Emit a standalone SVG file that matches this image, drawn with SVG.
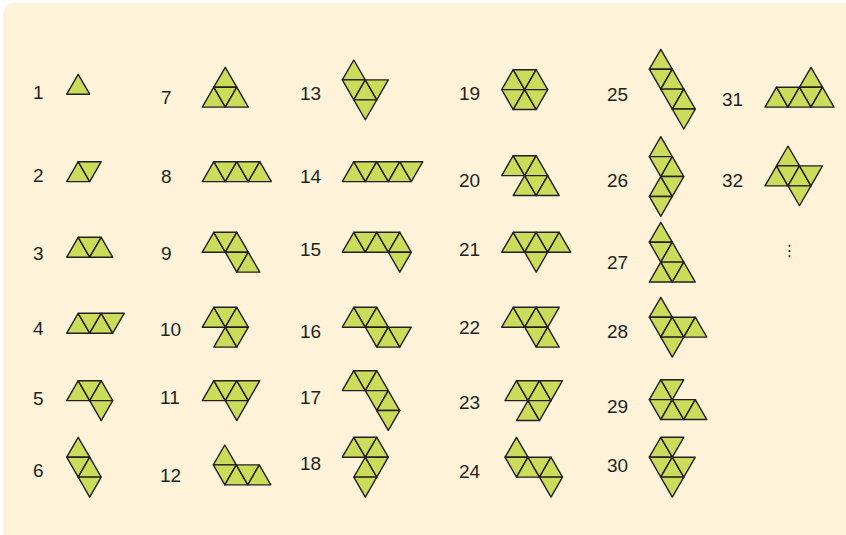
<svg xmlns="http://www.w3.org/2000/svg" xmlns:xlink="http://www.w3.org/1999/xlink" width="846" height="535" viewBox="0 0 846 535">
<style>
.bg{fill:#fef3d8}
.tri{fill:#cbdb5a;stroke:#231f20;stroke-width:1.4;stroke-linejoin:round}
.lbl{font-family:"Liberation Sans",Arial,sans-serif;font-size:19px;fill:#231f20}
</style>
<defs>
<polygon id="u" points="0,19.92 23,19.92 11.5,0"/>
<polygon id="d" points="0,0 23,0 11.5,19.92"/>
</defs>
<rect class="bg" x="3" y="3" width="853" height="542" rx="10"/>
<g id="labels" class="lbl">
<text x="33" y="98.8">1</text>
<text x="33" y="182.3">2</text>
<text x="33" y="260.3">3</text>
<text x="33" y="335.3">4</text>
<text x="33" y="405.3">5</text>
<text x="33" y="476.8">6</text>
<text x="161" y="104.3">7</text>
<text x="161" y="182.8">8</text>
<text x="161" y="260.3">9</text>
<text x="160" y="336.3">10</text>
<text x="160" y="403.8">11</text>
<text x="160" y="481.8">12</text>
<text x="300" y="99.8">13</text>
<text x="300" y="183.3">14</text>
<text x="300" y="255.8">15</text>
<text x="300" y="337.8">16</text>
<text x="300" y="403.8">17</text>
<text x="300" y="470.3">18</text>
<text x="459" y="99.8">19</text>
<text x="459" y="187.3">20</text>
<text x="459" y="255.8">21</text>
<text x="459" y="334.3">22</text>
<text x="459" y="408.8">23</text>
<text x="459" y="477.8">24</text>
<text x="607" y="100.8">25</text>
<text x="607" y="186.8">26</text>
<text x="607" y="269.3">27</text>
<text x="607" y="337.8">28</text>
<text x="607" y="412.8">29</text>
<text x="607" y="471.8">30</text>
<text x="722" y="105.8">31</text>
<text x="722" y="186.8">32</text>
<text x="781.5" y="255.5" style="font-family:'DejaVu Sans',sans-serif;font-size:16px">⋮</text>
</g>
<g id="shapes" class="tri">
<g id="p1" transform="translate(66.7,74.3)"><use href="#u" x="0" y="0"/></g>
<g id="p2" transform="translate(66.7,161.7)"><use href="#u" x="0" y="0"/><use href="#d" x="11.5" y="0"/></g>
<g id="p3" transform="translate(66.7,237.3)"><use href="#u" x="0" y="0"/><use href="#d" x="11.5" y="0"/><use href="#u" x="23" y="0"/></g>
<g id="p4" transform="translate(66.7,313.3)"><use href="#u" x="0" y="0"/><use href="#d" x="11.5" y="0"/><use href="#u" x="23" y="0"/><use href="#d" x="34.5" y="0"/></g>
<g id="p5" transform="translate(66.7,380.7)"><use href="#u" x="0" y="0"/><use href="#d" x="11.5" y="0"/><use href="#u" x="23" y="0"/><use href="#d" x="23" y="19.92"/></g>
<g id="p6" transform="translate(66.7,437.3)"><use href="#u" x="0" y="0"/><use href="#d" x="0" y="19.92"/><use href="#u" x="11.5" y="19.92"/><use href="#d" x="11.5" y="39.84"/></g>
<g id="p7" transform="translate(202.3,67.3)"><use href="#u" x="11.5" y="0"/><use href="#u" x="0" y="19.92"/><use href="#d" x="11.5" y="19.92"/><use href="#u" x="23" y="19.92"/></g>
<g id="p8" transform="translate(202.3,161.7)"><use href="#u" x="0" y="0"/><use href="#d" x="11.5" y="0"/><use href="#u" x="23" y="0"/><use href="#d" x="34.5" y="0"/><use href="#u" x="46" y="0"/></g>
<g id="p9" transform="translate(202.3,232.3)"><use href="#u" x="0" y="0"/><use href="#d" x="11.5" y="0"/><use href="#u" x="23" y="0"/><use href="#d" x="23" y="19.92"/><use href="#u" x="34.5" y="19.92"/></g>
<g id="p10" transform="translate(202.3,307.3)"><use href="#u" x="0" y="0"/><use href="#d" x="11.5" y="0"/><use href="#u" x="23" y="0"/><use href="#u" x="11.5" y="19.92"/><use href="#d" x="23" y="19.92"/></g>
<g id="p11" transform="translate(202.3,380.7)"><use href="#u" x="0" y="0"/><use href="#d" x="11.5" y="0"/><use href="#u" x="23" y="0"/><use href="#d" x="34.5" y="0"/><use href="#d" x="23" y="19.92"/></g>
<g id="p12" transform="translate(213.3,445)"><use href="#u" x="0" y="0"/><use href="#d" x="0" y="19.92"/><use href="#u" x="11.5" y="19.92"/><use href="#d" x="23" y="19.92"/><use href="#u" x="34.5" y="19.92"/></g>
<g id="p13" transform="translate(342.3,60)"><use href="#u" x="0" y="0"/><use href="#d" x="0" y="19.92"/><use href="#u" x="11.5" y="19.92"/><use href="#d" x="23" y="19.92"/><use href="#d" x="11.5" y="39.84"/></g>
<g id="p14" transform="translate(342.3,161.7)"><use href="#u" x="0" y="0"/><use href="#d" x="11.5" y="0"/><use href="#u" x="23" y="0"/><use href="#d" x="34.5" y="0"/><use href="#u" x="46" y="0"/><use href="#d" x="57.5" y="0"/></g>
<g id="p15" transform="translate(342.3,232.3)"><use href="#u" x="0" y="0"/><use href="#d" x="11.5" y="0"/><use href="#u" x="23" y="0"/><use href="#d" x="34.5" y="0"/><use href="#u" x="46" y="0"/><use href="#d" x="46" y="19.92"/></g>
<g id="p16" transform="translate(342.3,307.3)"><use href="#u" x="0" y="0"/><use href="#d" x="11.5" y="0"/><use href="#u" x="23" y="0"/><use href="#d" x="23" y="19.92"/><use href="#u" x="34.5" y="19.92"/><use href="#d" x="46" y="19.92"/></g>
<g id="p17" transform="translate(342.3,370.7)"><use href="#u" x="0" y="0"/><use href="#d" x="11.5" y="0"/><use href="#u" x="23" y="0"/><use href="#d" x="23" y="19.92"/><use href="#u" x="34.5" y="19.92"/><use href="#d" x="34.5" y="39.84"/></g>
<g id="p18" transform="translate(342.3,437.3)"><use href="#u" x="0" y="0"/><use href="#d" x="11.5" y="0"/><use href="#u" x="23" y="0"/><use href="#u" x="11.5" y="19.92"/><use href="#d" x="23" y="19.92"/><use href="#d" x="11.5" y="39.84"/></g>
<g id="p19" transform="translate(501.7,69.7)"><use href="#u" x="0" y="0"/><use href="#d" x="11.5" y="0"/><use href="#u" x="23" y="0"/><use href="#d" x="0" y="19.92"/><use href="#u" x="11.5" y="19.92"/><use href="#d" x="23" y="19.92"/></g>
<g id="p20" transform="translate(501.7,155.7)"><use href="#u" x="0" y="0"/><use href="#d" x="11.5" y="0"/><use href="#u" x="23" y="0"/><use href="#u" x="11.5" y="19.92"/><use href="#d" x="23" y="19.92"/><use href="#u" x="34.5" y="19.92"/></g>
<g id="p21" transform="translate(501.7,232.3)"><use href="#u" x="0" y="0"/><use href="#d" x="11.5" y="0"/><use href="#u" x="23" y="0"/><use href="#d" x="34.5" y="0"/><use href="#u" x="46" y="0"/><use href="#d" x="23" y="19.92"/></g>
<g id="p22" transform="translate(501.7,307.3)"><use href="#u" x="0" y="0"/><use href="#d" x="11.5" y="0"/><use href="#u" x="23" y="0"/><use href="#d" x="34.5" y="0"/><use href="#d" x="23" y="19.92"/><use href="#u" x="34.5" y="19.92"/></g>
<g id="p23" transform="translate(505,380.7)"><use href="#u" x="0" y="0"/><use href="#d" x="11.5" y="0"/><use href="#u" x="23" y="0"/><use href="#d" x="34.5" y="0"/><use href="#u" x="11.5" y="19.92"/><use href="#d" x="23" y="19.92"/></g>
<g id="p24" transform="translate(505,437.3)"><use href="#u" x="0" y="0"/><use href="#d" x="0" y="19.92"/><use href="#u" x="11.5" y="19.92"/><use href="#d" x="23" y="19.92"/><use href="#u" x="34.5" y="19.92"/><use href="#d" x="34.5" y="39.84"/></g>
<g id="p25" transform="translate(649.3,49.3)"><use href="#u" x="0" y="0"/><use href="#d" x="0" y="19.92"/><use href="#u" x="11.5" y="19.92"/><use href="#d" x="11.5" y="39.84"/><use href="#u" x="23" y="39.84"/><use href="#d" x="23" y="59.76"/></g>
<g id="p26" transform="translate(649.3,136.7)"><use href="#u" x="0" y="0"/><use href="#d" x="0" y="19.92"/><use href="#u" x="11.5" y="19.92"/><use href="#u" x="0" y="39.84"/><use href="#d" x="11.5" y="39.84"/><use href="#d" x="0" y="59.76"/></g>
<g id="p27" transform="translate(649.3,222.3)"><use href="#u" x="0" y="0"/><use href="#d" x="0" y="19.92"/><use href="#u" x="11.5" y="19.92"/><use href="#u" x="0" y="39.84"/><use href="#d" x="11.5" y="39.84"/><use href="#u" x="23" y="39.84"/></g>
<g id="p28" transform="translate(649.3,297.3)"><use href="#u" x="0" y="0"/><use href="#d" x="0" y="19.92"/><use href="#u" x="11.5" y="19.92"/><use href="#d" x="23" y="19.92"/><use href="#u" x="34.5" y="19.92"/><use href="#d" x="11.5" y="39.84"/></g>
<g id="p29" transform="translate(649.3,379.7)"><use href="#u" x="0" y="0"/><use href="#d" x="11.5" y="0"/><use href="#d" x="0" y="19.92"/><use href="#u" x="11.5" y="19.92"/><use href="#d" x="23" y="19.92"/><use href="#u" x="34.5" y="19.92"/></g>
<g id="p30" transform="translate(649.3,437.3)"><use href="#u" x="0" y="0"/><use href="#d" x="11.5" y="0"/><use href="#d" x="0" y="19.92"/><use href="#u" x="11.5" y="19.92"/><use href="#d" x="23" y="19.92"/><use href="#d" x="11.5" y="39.84"/></g>
<g id="p31" transform="translate(765,67.3)"><use href="#u" x="34.5" y="0"/><use href="#u" x="0" y="19.92"/><use href="#d" x="11.5" y="19.92"/><use href="#u" x="23" y="19.92"/><use href="#d" x="34.5" y="19.92"/><use href="#u" x="46" y="19.92"/></g>
<g id="p32" transform="translate(765,146)"><use href="#u" x="11.5" y="0"/><use href="#u" x="0" y="19.92"/><use href="#d" x="11.5" y="19.92"/><use href="#u" x="23" y="19.92"/><use href="#d" x="34.5" y="19.92"/><use href="#d" x="23" y="39.84"/></g>
</g>
</svg>
